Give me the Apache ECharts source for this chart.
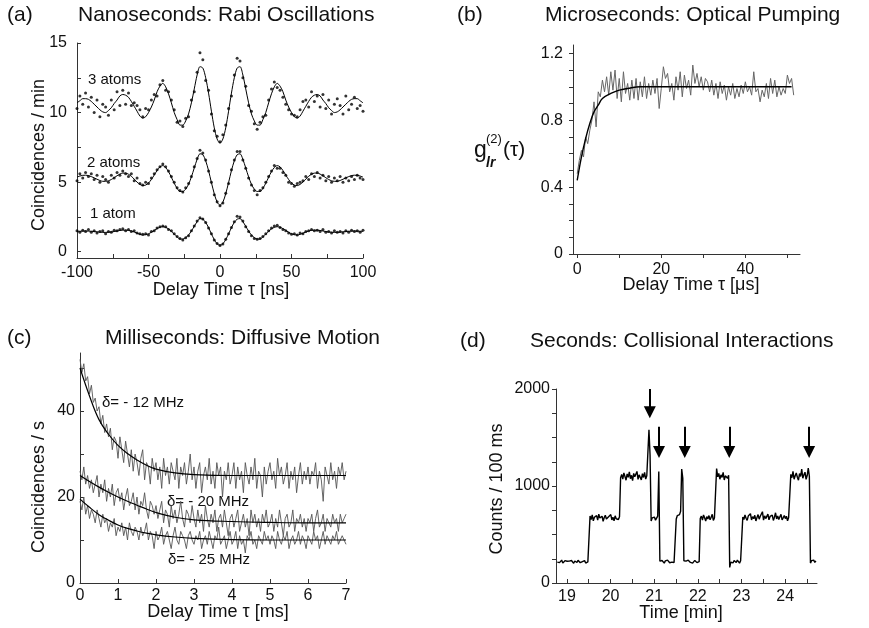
<!DOCTYPE html>
<html>
<head>
<meta charset="utf-8">
<script src="https://cdn.jsdelivr.net/npm/echarts@6.0.0/dist/echarts.min.js"></script>
<style>
  html, body { margin: 0; padding: 0; background: #fff; }
  #chart { width: 869px; height: 628px; }
</style>
</head>
<body>
<div id="chart"></div>
<script>
// ---- (a) Rabi oscillations, tau = -100..100 ns, step 2 ns
var tauA0 = -100, tauAStep = 2;
var fit3 = [10.7,10.85,11.0,11.0,10.95,10.8,10.6,10.4,10.2,10.05,10.0,10.15,10.35,10.65,10.9,11.2,11.3,11.25,11.1,10.8,10.45,10.1,9.75,9.6,9.7,10.0,10.4,10.9,11.5,11.9,12.1,11.85,11.35,10.7,10.0,9.5,9.1,9.1,9.4,9.9,10.7,11.7,12.7,13.3,13.2,12.5,11.4,10.1,8.9,8.1,
  7.8,
  8.1,8.9,10.1,11.4,12.5,13.2,13.3,12.7,11.7,10.7,9.9,9.4,9.1,9.1,9.5,10.0,10.7,11.35,11.85,12.1,11.9,11.5,10.9,10.4,10.0,9.7,9.6,9.75,10.1,10.45,10.8,11.1,11.25,11.3,11.2,10.9,10.65,10.35,10.15,10.0,10.05,10.2,10.4,10.6,10.8,10.95,11.0,11.0,10.85,10.7];
var fit2 = [5.36,5.44,5.49,5.5,5.47,5.4,5.31,5.21,5.12,5.06,5.06,5.1,5.19,5.32,5.46,5.58,5.65,5.65,5.57,5.42,5.22,5.0,4.84,4.75,4.79,4.94,5.19,5.51,5.84,6.1,6.19,6.05,5.76,5.35,4.92,4.56,4.33,4.33,4.5,4.84,5.38,6.02,6.64,7.04,6.97,6.53,5.83,4.97,4.17,3.56,
  3.35,
  3.56,4.17,4.97,5.83,6.53,6.97,7.04,6.64,6.02,5.38,4.84,4.5,4.33,4.33,4.56,4.92,5.35,5.76,6.05,6.19,6.1,5.84,5.51,5.19,4.94,4.79,4.75,4.84,5.0,5.22,5.42,5.57,5.65,5.65,5.58,5.46,5.32,5.19,5.1,5.06,5.06,5.12,5.21,5.31,5.4,5.47,5.5,5.49,5.44,5.36];
var fit1 = [1.46,1.47,1.48,1.49,1.48,1.47,1.45,1.43,1.41,1.39,1.39,1.4,1.42,1.45,1.49,1.53,1.55,1.55,1.54,1.49,1.42,1.33,1.25,1.2,1.23,1.29,1.4,1.53,1.66,1.76,1.8,1.75,1.64,1.47,1.27,1.07,0.92,0.91,1.01,1.2,1.49,1.83,2.16,2.38,2.34,2.11,1.73,1.28,0.87,0.57,
  0.47,
  0.57,0.87,1.28,1.73,2.11,2.34,2.38,2.16,1.83,1.49,1.2,1.01,0.91,0.92,1.07,1.27,1.47,1.64,1.75,1.8,1.76,1.66,1.53,1.4,1.29,1.23,1.2,1.25,1.33,1.42,1.49,1.54,1.55,1.55,1.53,1.49,1.45,1.42,1.4,1.39,1.39,1.41,1.43,1.45,1.47,1.48,1.49,1.48,1.47,1.46];
var dots3 = [10.3,11.2,10.6,11.4,10.4,11.1,10.0,10.9,9.7,10.6,10.4,9.8,10.9,10.2,11.5,10.5,11.6,10.6,11.4,10.5,10.7,10.5,10.2,9.7,10.3,10.2,10.9,11.3,11.2,12.0,12.3,11.6,11.5,10.9,10.2,9.3,9.4,9.0,9.6,9.7,10.9,11.5,12.9,14.3,13.8,12.3,11.6,9.9,8.7,8.3,
  7.9,
  8.4,9.1,10.3,11.2,12.7,13.9,13.7,12.5,11.9,10.5,10.1,9.2,8.8,9.3,9.7,9.8,10.9,11.7,12.2,11.8,11.6,11.1,10.6,10.2,9.9,9.8,9.7,10.2,10.8,10.9,10.4,11.5,10.8,11.2,10.4,11.3,10.3,10.9,9.9,10.6,11.0,10.5,9.9,11.2,10.2,10.6,11.1,10.3,10.5,10.1];
var dots2 = [5.1,5.6,5.3,5.7,5.4,5.6,5.2,5.5,5.0,5.4,5.2,5.0,5.5,5.3,5.7,5.5,5.8,5.6,5.4,5.6,5.1,5.3,4.9,4.8,5.0,4.9,5.3,5.6,5.9,6.1,6.3,6.1,5.8,5.4,5.0,4.6,4.4,4.3,4.6,4.9,5.4,6.1,6.7,7.3,7.1,6.6,5.8,5.0,4.1,3.6,
  3.3,
  3.5,4.2,4.9,5.9,6.6,7.2,7.2,6.6,6.0,5.3,4.8,4.4,4.1,4.4,4.6,5.0,5.4,5.8,6.2,6.0,6.0,5.7,5.5,5.0,4.9,4.7,4.9,5.0,5.1,5.4,5.2,5.6,5.4,5.7,5.3,5.5,5.1,5.4,5.0,5.3,5.1,5.4,5.0,5.3,5.1,5.4,5.2,5.5,5.3,5.2];
var dots1 = [1.5,1.4,1.55,1.45,1.6,1.4,1.5,1.35,1.45,1.5,1.3,1.45,1.4,1.55,1.5,1.6,1.65,1.5,1.6,1.45,1.5,1.35,1.3,1.25,1.3,1.2,1.45,1.5,1.7,1.8,1.85,1.8,1.6,1.5,1.3,1.1,0.95,0.85,1.0,1.15,1.5,1.85,2.2,2.45,2.35,2.1,1.7,1.3,0.85,0.6,
  0.45,
  0.55,0.9,1.3,1.75,2.15,2.55,2.5,2.2,1.8,1.45,1.15,0.95,0.9,0.95,1.1,1.3,1.5,1.7,1.85,1.9,1.75,1.6,1.5,1.35,1.25,1.3,1.2,1.35,1.3,1.45,1.5,1.6,1.5,1.55,1.45,1.6,1.4,1.45,1.35,1.5,1.4,1.45,1.35,1.5,1.4,1.55,1.45,1.5,1.4,1.55];

// ---- (b) optical pumping, tau = 0..51.5 us, step 0.5 us
var tauB0 = 0, tauBStep = 0.5;
var g2 = [0.48,0.56,0.62,0.58,0.70,0.66,0.74,0.80,0.91,0.76,
  0.97,0.94,1.04,0.97,1.06,0.95,1.09,0.98,1.10,0.93,
  1.05,0.91,1.09,0.96,1.02,0.92,1.04,0.93,1.05,0.92,
  1.03,0.94,1.06,0.93,1.02,0.95,1.04,0.96,1.05,0.87,
  0.99,1.12,1.05,1.08,0.97,1.02,0.92,1.06,0.98,1.09,
  0.94,1.07,0.99,1.04,0.95,1.13,1.02,1.08,1.00,1.06,
  0.98,1.05,1.03,0.97,1.04,0.95,1.02,0.93,1.03,0.96,
  1.01,0.92,1.00,0.95,1.02,0.93,0.99,0.94,1.01,0.96,
  1.03,0.97,1.00,0.95,1.09,0.97,0.99,0.91,0.98,0.94,
  1.02,0.93,1.05,0.96,1.04,0.94,1.00,0.95,0.99,0.96,
  1.07,1.02,1.05,0.95];
var fitBt = [0, 1, 2, 3, 4, 5, 6, 8, 10, 12, 15, 20, 30, 40, 51];
var fitB = [0.44, 0.58, 0.69, 0.78, 0.85, 0.89, 0.93, 0.96, 0.98, 0.99, 1.0, 1.0, 1.0, 1.0, 1.0];

// ---- (c) diffusive motion, tau = 0..7 ms, step 0.05 ms
var tauC0 = 0, tauCStep = 0.05;
var d12 = [52,49,51,47,48,44,46,42,43,40,41,37,39,35,37,34,36,31,34,33,
  29,34,31,28,33,30,27,31,26,30,28,25,29,31,24,28,27,23,29,26,
  28,24,27,22,29,25,27,23,28,26,24,29,22,27,25,28,23,26,30,24,
  27,22,26,28,21,25,27,24,29,23,26,22,28,25,27,20,26,24,28,23,
  25,28,22,27,24,26,21,28,25,23,27,24,29,22,26,25,20,27,23,26,
  28,24,26,22,29,25,27,23,25,28,22,26,24,27,21,25,28,23,26,24,
  27,23,26,25,28,22,26,24,19,27,25,23,28,24,26,22,27,25,28,24,26];
var d20 = [26,24,27,23,25,22,24,21,23,25,20,23,21,24,19,22,20,23,18,21,
  22,19,21,17,20,22,18,19,21,17,20,16,19,18,21,17,15,19,18,16,
  18,15,17,19,14,17,16,13,18,15,17,14,16,19,15,13,17,16,14,18,
  15,13,17,14,16,12,18,15,13,16,14,17,12,15,16,13,17,14,11,15,
  16,13,15,17,12,14,16,13,15,11,17,14,16,13,15,12,16,14,17,13,
  14,16,12,15,13,17,14,11,15,16,13,14,17,12,15,14,16,13,15,12,
  15,14,16,12,15,17,13,14,16,12,15,14,13,16,14,15,12,16,14,15,16];
var d25 = [19,17,20,16,18,15,17,16,14,17,15,13,16,14,15,12,14,13,15,11,
  13,12,14,11,13,10,14,12,11,13,12,10,13,11,12,14,10,12,11,8,
  12,10,11,13,9,11,12,10,8,11,13,10,9,12,11,10,8,11,12,10,
  9,11,10,12,8,10,11,9,12,10,8,11,10,13,9,10,11,8,10,12,
  9,10,12,8,11,9,10,7,11,10,12,9,10,8,11,10,9,12,10,11,
  9,11,10,8,12,10,9,11,10,12,8,10,11,9,10,12,9,11,10,8,
  11,10,9,12,10,11,8,10,12,9,11,10,9,11,10,12,9,10,11,10,9];
var fitCt = [0, 0.25, 0.5, 0.75, 1, 1.25, 1.5, 1.75, 2, 2.5, 3, 4, 5, 6, 7];
var fit12 = [50, 43.5, 38, 34.6, 32, 30.1, 28.6, 27.4, 26.5, 25.6, 25.2, 25, 25, 25, 25];
var fit20 = [25, 23.6, 22.3, 21.1, 20, 19, 18.1, 17.2, 16.4, 15.3, 14.7, 14.3, 14.1, 14, 14];
var fit25 = [19.5, 17.6, 15.9, 14.6, 13.5, 12.7, 12.1, 11.6, 11.2, 10.7, 10.4, 10.1, 10, 10, 10];

// ---- (d) collisional interactions, time from 18.78 min, step 0.025 min
var timeD0 = 18.78, timeDStep = 0.025;
var counts = [215,228,210,222,236,205,218,230,212,224,208,226,219,232,214,203,227,221,211,235,217,209,229,220,213,231,206,224,218,226,
  690,655,702,640,678,662,695,648,710,670,652,688,636,675,698,660,644,683,667,705,650,679,641,693,662,672,655,684,
  1085,1120,1070,1135,1098,1060,1125,1090,1145,1075,1110,1055,1130,1095,1080,1150,1068,1115,1100,1062,1128,1088,1140,1072,1105,1118,
  1580,1320,
  640,672,655,680,648,665,690,
  1150,
  225,210,232,218,205,228,214,236,221,209,226,215,230,212,224,
  660,695,675,705,740,
  1175,1080,
  230,214,226,208,235,219,212,228,205,222,233,216,210,227,220,
  665,690,648,702,672,638,685,660,695,652,678,708,645,670,688,
  1180,1095,1130,1070,1115,1088,1140,1062,1105,1125,1080,1110,
  160,215,228,207,232,218,211,236,222,205,229,238,
  680,655,702,668,645,690,672,715,650,684,662,698,640,676,705,658,688,670,735,648,692,664,680,710,652,686,668,700,645,678,724,660,690,655,683,708,650,672,696,664,688,642,676,660,
  1120,1085,1150,1070,1105,1135,1090,1060,1128,1098,1175,1080,1115,1142,1068,1108,1185,1100,
  205,230,218,236,212,228];
var arrowX = [20.9, 21.11, 21.7, 22.72, 24.55];
var arrowTop = [2000, 1610, 1610, 1610, 1610];
var arrowEnd = [1760, 1350, 1350, 1350, 1350];

// ---- helpers
function stepped(t0, dt, vals) {
  return vals.map(function (v, i) { return [+(t0 + i * dt).toFixed(4), v]; });
}
function zip(xs, ys) {
  return xs.map(function (x, i) { return [x, ys[i]]; });
}

var F = '"Liberation Sans", Arial, sans-serif';
var INK = '#111';

function txt(x, y, text, size, o) {
  o = o || {};
  return {
    type: 'text', x: x, y: y, rotation: o.rot || 0, silent: true,
    style: {
      text: text,
      font: (o.fstyle || 'normal') + ' ' + (o.weight || 'normal') + ' ' + size + 'px ' + F,
      fill: INK,
      align: o.align || 'left', verticalAlign: 'middle',
      textAlign: o.align || 'left', textVerticalAlign: 'middle'
    }
  };
}

function axisBase(grid, o) {
  return {
    gridIndex: grid, type: 'value', min: o.min, max: o.max, interval: o.interval,
    axisLine: { show: true, onZero: false, lineStyle: { color: '#333', width: 1 } },
    axisTick: { show: true, inside: o.inside, length: 4, customValues: o.ticks, lineStyle: { color: '#333' } },
    axisLabel: { show: true, color: INK, fontSize: 16, fontFamily: F, margin: o.margin,
      customValues: o.labels, formatter: o.fmt },
    splitLine: { show: false }
  };
}

var chart = echarts.init(document.getElementById('chart'), null, { renderer: 'canvas' });

var tauA = [];
for (var i = 0; i < fit3.length; i++) tauA.push(tauA0 + i * tauAStep);

var option = {
  animation: false,
  backgroundColor: '#fff',
  grid: [
    { left: 77, top: 43, width: 286, height: 215, containLabel: false, outerBoundsMode: 'none' },
    { left: 573, top: 45, width: 227, height: 209, containLabel: false, outerBoundsMode: 'none' },
    { left: 80, top: 353, width: 266, height: 230, containLabel: false, outerBoundsMode: 'none' },
    { left: 556, top: 389, width: 261, height: 194, containLabel: false, outerBoundsMode: 'none' }
  ],
  xAxis: [
    axisBase(0, { min: -100, max: 100, interval: 25, inside: true, margin: 7,
      fmt: function (v) { return v % 50 === 0 ? String(v) : ''; } }),
    axisBase(1, { min: -1, max: 53, inside: false, margin: 8,
      ticks: [0, 10, 20, 30, 40, 50], labels: [0, 20, 40] }),
    axisBase(2, { min: 0, max: 7, interval: 1, inside: true, margin: 5 }),
    axisBase(3, { min: 18.75, max: 24.73, inside: true, margin: 6,
      ticks: [19, 19.5, 20, 20.5, 21, 21.5, 22, 22.5, 23, 23.5, 24, 24.5],
      labels: [19, 20, 21, 22, 23, 24] })
  ],
  yAxis: [
    axisBase(0, { min: -0.45, max: 15, inside: true, margin: 10,
      ticks: [0, 2.5, 5, 7.5, 10, 12.5, 15], labels: [0, 5, 10, 15] }),
    axisBase(1, { min: 0, max: 1.25, inside: false, margin: 10,
      ticks: [0, 0.1, 0.2, 0.3, 0.4, 0.5, 0.6, 0.7, 0.8, 0.9, 1.0, 1.1, 1.2],
      labels: [0, 0.4, 0.8, 1.2],
      fmt: function (v) { return v === 0 ? '0' : v.toFixed(1); } }),
    axisBase(2, { min: 0, max: 53.5, inside: true, margin: 5,
      ticks: [0, 10, 20, 30, 40, 50], labels: [0, 20, 40] }),
    axisBase(3, { min: 0, max: 2000, interval: 250, inside: false, margin: 6,
      fmt: function (v) { return v % 1000 === 0 ? String(v) : ''; } })
  ],
  series: [
    // (a)
    { type: 'scatter', xAxisIndex: 0, yAxisIndex: 0, data: zip(tauA, dots3), symbolSize: 3, itemStyle: { color: '#000' } },
    { type: 'scatter', xAxisIndex: 0, yAxisIndex: 0, data: zip(tauA, dots2), symbolSize: 3, itemStyle: { color: '#000' } },
    { type: 'scatter', xAxisIndex: 0, yAxisIndex: 0, data: zip(tauA, dots1), symbolSize: 3, itemStyle: { color: '#000' } },
    { type: 'line', xAxisIndex: 0, yAxisIndex: 0, data: zip(tauA, fit3), showSymbol: false, smooth: 0.3, lineStyle: { color: '#000', width: 1 } },
    { type: 'line', xAxisIndex: 0, yAxisIndex: 0, data: zip(tauA, fit2), showSymbol: false, smooth: 0.3, lineStyle: { color: '#000', width: 1 } },
    { type: 'line', xAxisIndex: 0, yAxisIndex: 0, data: zip(tauA, fit1), showSymbol: false, smooth: 0.3, lineStyle: { color: '#000', width: 1 } },
    // (b)
    { type: 'line', xAxisIndex: 1, yAxisIndex: 1, data: stepped(tauB0, tauBStep, g2), showSymbol: false, lineStyle: { color: '#666', width: 1 } },
    { type: 'line', xAxisIndex: 1, yAxisIndex: 1, data: zip(fitBt, fitB), showSymbol: false, smooth: 0.4, lineStyle: { color: '#000', width: 1.4 } },
    // (c)
    { type: 'line', xAxisIndex: 2, yAxisIndex: 2, data: stepped(tauC0, tauCStep, d12), showSymbol: false, lineStyle: { color: '#555', width: 0.9 } },
    { type: 'line', xAxisIndex: 2, yAxisIndex: 2, data: stepped(tauC0, tauCStep, d20), showSymbol: false, lineStyle: { color: '#555', width: 0.9 } },
    { type: 'line', xAxisIndex: 2, yAxisIndex: 2, data: stepped(tauC0, tauCStep, d25), showSymbol: false, lineStyle: { color: '#555', width: 0.9 } },
    { type: 'line', xAxisIndex: 2, yAxisIndex: 2, data: zip(fitCt, fit12), showSymbol: false, smooth: 0.4, lineStyle: { color: '#000', width: 1.2 } },
    { type: 'line', xAxisIndex: 2, yAxisIndex: 2, data: zip(fitCt, fit20), showSymbol: false, smooth: 0.4, lineStyle: { color: '#000', width: 1.2 } },
    { type: 'line', xAxisIndex: 2, yAxisIndex: 2, data: zip(fitCt, fit25), showSymbol: false, smooth: 0.4, lineStyle: { color: '#000', width: 1.2 } },
    // (d)
    { type: 'line', xAxisIndex: 3, yAxisIndex: 3, data: stepped(timeD0, timeDStep, counts), showSymbol: false,
      lineStyle: { color: '#000', width: 1.4 },
      markLine: {
        silent: true, animation: false,
        symbol: ['none', 'triangle'], symbolSize: 12,
        label: { show: false },
        lineStyle: { color: '#000', width: 2, type: 'solid' },
        data: arrowX.map(function (x, k) {
          return [{ coord: [x, arrowTop[k]] }, { coord: [x, arrowEnd[k]] }];
        })
      }
    }
  ],
  graphic: [
    // panel titles
    txt(7, 15, '(a)', 21), txt(78, 15, 'Nanoseconds: Rabi Oscillations', 21),
    txt(457, 15, '(b)', 21), txt(545, 15, 'Microseconds: Optical Pumping', 21),
    txt(7, 338, '(c)', 21), txt(105, 338, 'Milliseconds: Diffusive Motion', 21),
    txt(460, 341, '(d)', 21), txt(530, 341, 'Seconds: Collisional Interactions', 21),
    // axis names
    txt(39, 155, 'Coincidences / min', 18, { rot: Math.PI / 2, align: 'center' }),
    txt(221, 290, 'Delay Time τ [ns]', 18, { align: 'center' }),
    txt(691, 285, 'Delay Time τ [μs]', 18, { align: 'center' }),
    txt(39, 487, 'Coincidences / s', 18, { rot: Math.PI / 2, align: 'center' }),
    txt(218, 612, 'Delay Time τ [ms]', 18, { align: 'center' }),
    txt(497, 489, 'Counts / 100 ms', 18, { rot: Math.PI / 2, align: 'center' }),
    txt(681, 613, 'Time [min]', 18, { align: 'center' }),
    // g_lr^(2)(tau)
    txt(474, 151, 'g', 23),
    txt(486, 139, '(2)', 13),
    txt(486, 163, 'lr', 14, { fstyle: 'italic', weight: 'bold' }),
    txt(503, 150, '(τ)', 21),
    // annotations
    txt(88, 80, '3 atoms', 15), txt(87, 163, '2 atoms', 15), txt(90, 214, '1 atom', 15),
    txt(102, 403, 'δ= - 12 MHz', 15), txt(167, 502, 'δ= - 20 MHz', 15), txt(168, 560, 'δ= - 25 MHz', 15)
  ]
};

chart.setOption(option);
</script>
</body>
</html>
